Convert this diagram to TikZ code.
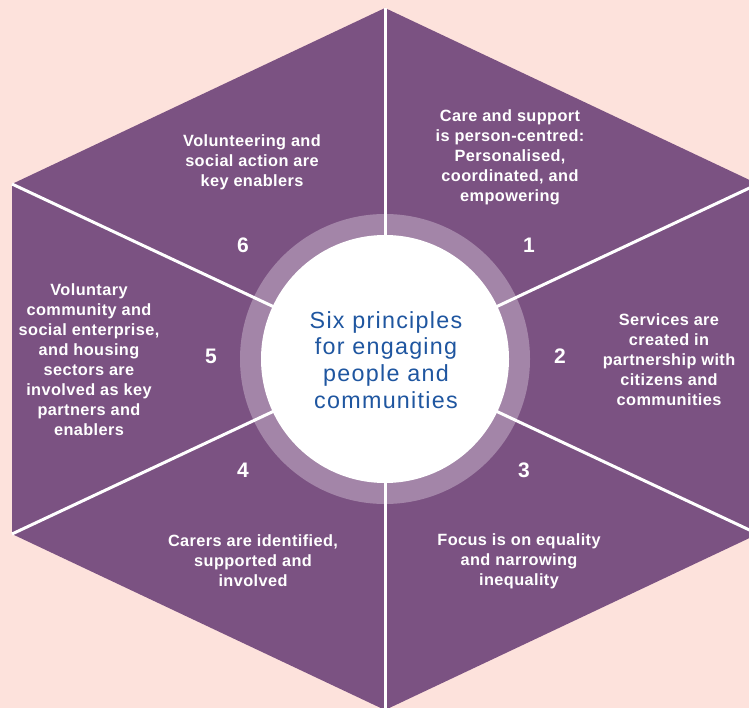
\documentclass[tikz,border=0pt]{standalone}
\usepackage{fontspec}
\setmainfont{Liberation Sans}
\newfontfamily\principlefont[LetterSpace=2.5]{Liberation Sans}
\newfontfamily\centrefont[LetterSpace=5.5]{Liberation Sans}
\definecolor{bgpink}{RGB}{253,226,220}
\definecolor{hexpurple}{RGB}{123,82,130}
\definecolor{ringpurple}{RGB}{163,133,168}
\definecolor{centreblue}{RGB}{31,86,160}
\begin{document}
\begin{tikzpicture}[x=1pt,y=-1pt,
  divider/.style={draw=white,line width=3pt},
  principle/.style={text=white,align=center,inner sep=0pt,font=\principlefont\bfseries\fontsize{16.3}{20}\selectfont},
  numlabel/.style={text=white,inner sep=0pt,font=\bfseries\fontsize{21}{24}\selectfont},
  centretext/.style={text=centreblue,align=center,inner sep=0pt,font=\centrefont\fontsize{23.3}{26.7}\selectfont}]
\fill[bgpink] (0,0) rectangle (749,708);
\useasboundingbox (0,0) rectangle (749,708);
\begin{scope}
\clip (0,0) rectangle (749,708);
\coordinate (c) at (385,359);
\coordinate (vt) at (385,8);
\coordinate (vur) at (758,184);
\coordinate (vlr) at (758,534);
\coordinate (vb) at (385,710);
\coordinate (vll) at (12,534);
\coordinate (vul) at (12,184);
\fill[hexpurple] (vt) -- (vur) -- (vlr) -- (vb) -- (vll) -- (vul) -- cycle;
\fill[ringpurple] (c) circle[radius=145];
\foreach \v in {vt,vur,vlr,vb,vll,vul} \draw[divider] (c) -- (\v);
\fill[white] (c) circle[radius=124];
\end{scope}
\node[centretext] (centre) at (386,360) {Six principles\\for engaging\\people and\\communities};
\node[principle] (p6) at (252,162) {Volunteering and\\social action are\\key enablers};
\node[principle] (p1) at (510,157) {Care and support\\is person-centred:\\Personalised,\\coordinated, and\\empowering};
\node[principle] (p2) at (669,360) {Services are\\created in\\partnership with\\citizens and\\communities};
\node[principle] (p5) at (89,360) {Voluntary\\community and\\social enterprise,\\and housing\\sectors are\\involved as key\\partners and\\enablers};
\node[principle] (p4) at (253,561) {Carers are identified,\\supported and\\involved};
\node[principle] (p3) at (519,561) {Focus is on equality\\and narrowing\\inequality};
\node[numlabel] (n6) at (243,245) {6};
\node[numlabel] (n1) at (529,245) {1};
\node[numlabel] (n2) at (560,356) {2};
\node[numlabel] (n5) at (211,356) {5};
\node[numlabel] (n4) at (243,470) {4};
\node[numlabel] (n3) at (524,470) {3};
\end{tikzpicture}
\end{document}
